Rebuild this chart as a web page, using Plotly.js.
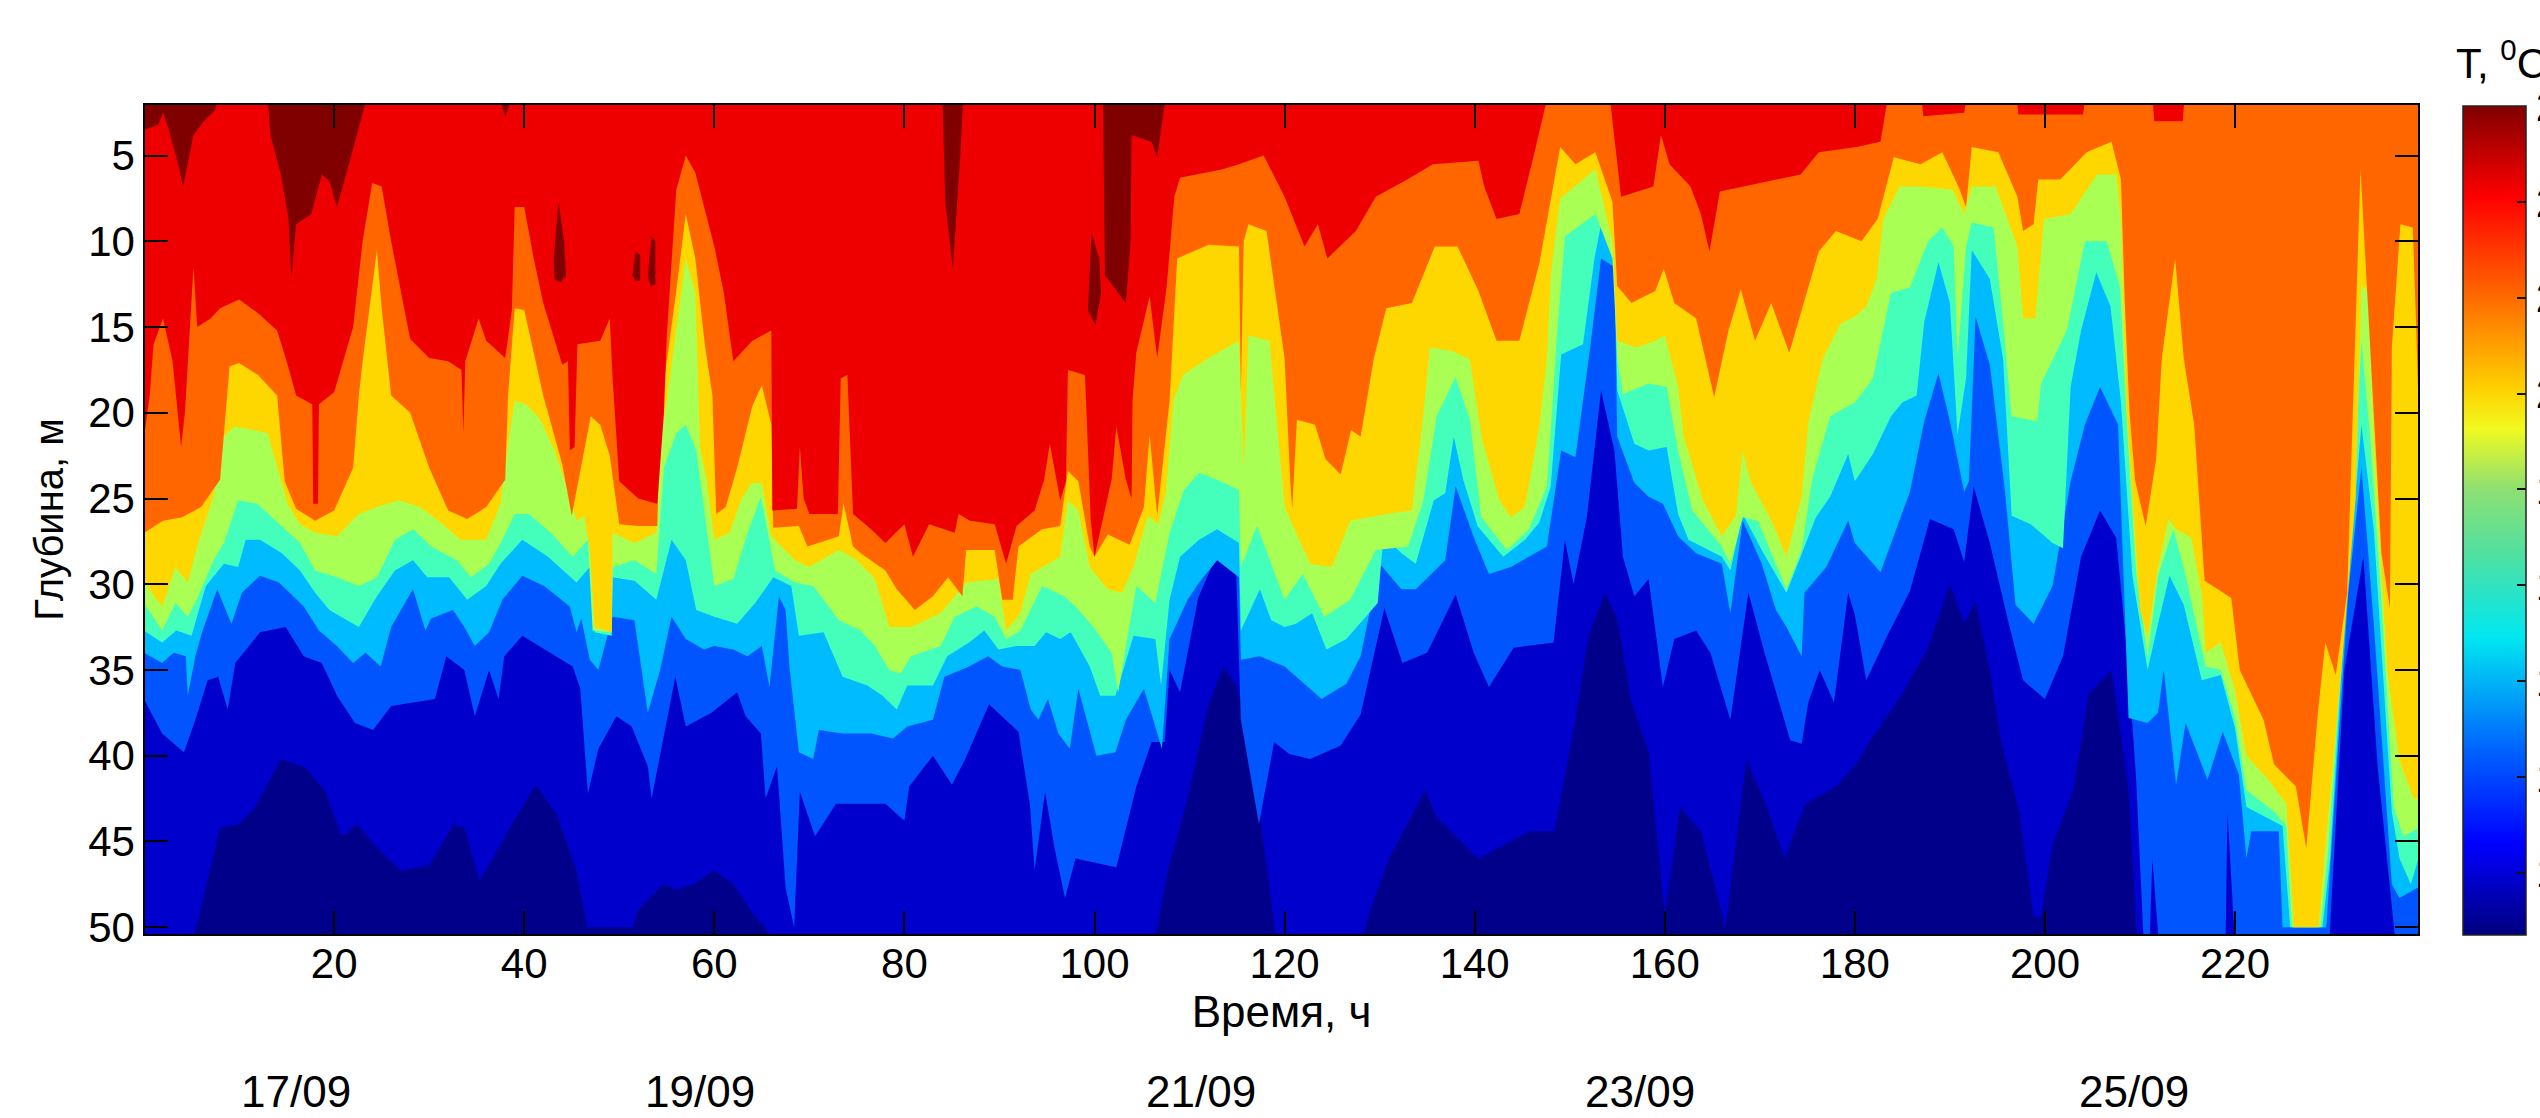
<!DOCTYPE html>
<html><head><meta charset="utf-8">
<script src="https://cdn.plot.ly/plotly-3.0.1.min.js"></script>
<style>html,body{margin:0;padding:0;background:#fff;overflow:hidden}</style>
</head><body><div id="chart" style="width:2540px;height:1118px"></div>
<script>
// Isotherm depth (m) against time (h): [hour, depth]
const T25=[[0,3.5],[1.5,3.2],[2,2.5],[2.6,3.5],[3.6,5.5],[4.1,6.8],[5.2,3.8],[6.3,3],[7.4,2.4],[8,1.5],[13,1.5],[13.3,3.8],[14.4,6.1],[15.2,8.7],[15.5,12.1],[16,9],[17.6,8.4],[18.7,6.1],[19.5,6.5],[20.3,8],[21.9,4.8],[23.2,2.2],[23.5,1.5],[37.3,1.5],[38,2.7],[38.8,1.5],[84,1.5],[84.3,7.7],[85.1,11.6],[85.9,4.8],[86.2,1.5],[100.9,1.5],[101.1,12],[103.3,13.6],[103.8,10],[103.9,3.8],[106,4.2],[106.6,5.1],[107.3,2.2],[107.5,1.5],[240,1.5]];
const T23=[[0,21.4],[0.6,19],[1,16],[2,14.5],[3,17],[3.9,22],[4.3,20],[5.2,11.5],[5.6,15],[7,14.5],[8,13.9],[10,13.4],[12,14.2],[14,15.2],[15,17],[16,19],[17.7,19.5],[17.8,25.3],[18.3,25.3],[18.4,19.5],[20,18.8],[22,15],[23,10],[24,6.6],[25,6.8],[26,10],[28,15.7],[30,16.8],[32,17],[33.4,17.5],[33.6,21.2],[33.8,17],[35.2,14.5],[36,15.8],[38,16.8],[38.7,14],[39,8],[40,8],[41,11],[42,13.6],[44,17.2],[44.6,17],[44.8,22.2],[45.3,22],[45.6,16],[48,15.8],[49,14.5],[49.3,18],[50,24],[52,25],[54,25.3],[54.7,20],[55,15.5],[56,7],[57,5],[58,6],[60,10.3],[61,13],[62,17],[64,15.8],[66,15.2],[66.1,25.7],[68.7,25.6],[69,22],[69.4,25],[70,25.9],[73,25.9],[73.3,18],[74,17.8],[74.6,25.9],[76.5,26.8],[78,27.6],[80,26.5],[80.9,28.4],[82.6,26.5],[85.3,27],[85.7,25.9],[86.9,26.3],[89.5,26.5],[90.7,28.8],[91.8,26.6],[93.7,25.7],[94.7,23.9],[95.3,21.8],[96.4,25.1],[97,24],[97.2,17.5],[99,17.8],[99.6,26.2],[100,28.4],[101.8,23.9],[102.3,20.8],[103.3,23.9],[103.9,25],[104,19.3],[104.4,16.5],[105.8,13.2],[106.6,16.8],[107.6,12.6],[108.4,7.4],[109,6.3],[113.5,5.8],[115.2,5.5],[117.8,5],[120,7.4],[122.1,10.3],[123.5,9],[124.5,11],[127.5,9.4],[129.6,7.4],[132.9,6.4],[135.6,5.5],[140.4,5.3],[141,6.8],[142.3,8.7],[144.7,8.4],[146.3,4.8],[147.4,2.2],[147.8,1.5],[154,1.5],[154.3,2],[155.4,7.4],[158.8,6.8],[159.6,3.8],[160.5,5.5],[162.7,6.8],[163.8,8.4],[164.7,10.6],[165.8,7.1],[168.3,6.8],[171.7,6.4],[174.3,6.1],[176.2,4.8],[180.2,4.5],[182.7,4.2],[183.3,2.2],[183.6,1.5],[187,1.5],[187.2,2.7],[191.5,2.5],[191.8,1.5],[197,1.5],[197.2,2.6],[204,2.6],[204.3,1.5],[211.3,1.5],[211.5,3],[214.5,3],[214.7,1.5],[240,1.5]];
const T21=[[0,27],[2,26.3],[4,26.1],[6,25.5],[8,23.9],[8.7,19],[9,17.3],[10,17.1],[12,17.8],[14,19],[14.4,21.6],[14.8,24],[16,25.6],[18,26.3],[20,25.7],[22,23.2],[22.6,19],[23,17],[24.5,10.5],[25,13.9],[26,19],[28,20],[30,23.2],[32,25.7],[34,26.2],[36,25.5],[38,23.9],[38.3,19],[39,13.9],[40,14],[42,19],[44,23],[45,26],[47,20.2],[48,20.7],[49,22.5],[50,26.5],[52,26.6],[54,26.6],[54.3,20],[55,17],[56,12.9],[57,8.4],[58,11],[59,16],[59.8,19],[60.2,25.9],[61.2,25.5],[62.4,23.2],[64,19.6],[65,18.4],[66,20.7],[66.2,26.7],[68.9,26.6],[69.8,27.8],[73.1,27.2],[73.6,25.3],[74.6,27.8],[75.4,28.2],[78,29.2],[79.2,30.3],[81.1,31.5],[83,30.7],[84.6,29.6],[86.1,30.7],[86.5,28],[89.5,28],[90.3,30.9],[91.4,30.9],[92,27.8],[94.5,26.8],[96.4,26.6],[97.2,23.4],[98.3,24],[99.5,27.8],[100,28.4],[101.4,27.1],[103.7,27.7],[105.2,25.5],[105.8,21.3],[106.6,26],[107.5,21.3],[107.9,19.3],[108.7,11],[112,10.2],[115.2,10.3],[115.4,18.8],[115.7,10],[116.2,9],[118.1,9.4],[120,16.8],[120.6,24],[120.8,25.6],[121.3,20.4],[123.2,20.7],[124.3,22.7],[125.9,23.6],[127,21],[128,21.4],[129.4,16.8],[130.7,13.9],[133.4,13.6],[135.8,10.3],[138.2,10.3],[140.4,12.9],[142.3,15.8],[144.7,15.8],[146.8,11.3],[149,4.5],[150.6,5.5],[152.7,4.8],[154.5,7.7],[155,12.6],[156.5,13.6],[159,12.9],[159.9,11.6],[161,13.6],[163.3,14.5],[165.2,19.1],[166.7,15.2],[168,12.8],[169.5,15.8],[171.2,13.6],[173.1,16.5],[174.3,14.2],[176.2,10.6],[178,9.4],[180.7,10],[182.4,8.7],[184.1,5.1],[186.9,5.5],[189.2,4.8],[190.9,6.8],[191.7,8],[192.3,4.5],[195.1,4.8],[197.1,7.4],[197.7,9.4],[198.8,9],[199.3,6.4],[201.6,6.4],[204.4,4.8],[207,4.2],[208,6.4],[208.4,13.6],[208.9,20],[209.5,24],[210.6,26.6],[211.7,22.7],[212.3,16.8],[213.7,11],[214.6,16.8],[215.7,20.7],[216.8,29.8],[219.6,30.8],[220.5,35],[223,37.9],[224.1,40.5],[226.4,41.8],[227.5,45.4],[228.7,37.6],[229.5,33.4],[230.6,35.3],[231.8,30.5],[233.2,5.8],[234.6,20],[235.4,28.2],[236.3,31.4],[236.5,16.2],[237.4,9],[238.7,9.2],[239,14],[239.4,21.3],[240,21.3]];
const T19=[[0,29.9],[1.9,31.3],[3.3,29],[4.6,29.9],[5.7,27.6],[7.3,24.9],[8.4,21.4],[9.5,20.8],[11.5,21],[13,21.2],[14.5,24.1],[15.1,25.3],[16.4,26.5],[18,27],[20.3,27.2],[22.6,25.9],[24.5,25.5],[26.8,25.1],[29,25.5],[31,26.3],[33.3,27.4],[36,27.4],[37.5,25.3],[38.3,21.8],[39,19.3],[40.2,19.5],[41.7,20.4],[43.2,22.2],[44.8,24.9],[45.5,26.3],[46.3,26],[46.9,28],[47.4,32.5],[49.2,32.8],[49.3,27],[51.6,27.6],[53.9,27],[54.5,21.2],[55,19.3],[56,15],[57,11],[58,13],[58.5,22],[59.2,24],[60,27.4],[61.6,27],[62.8,25.1],[63.9,24.1],[65,24.1],[66,27.2],[68.5,28.6],[70,29],[73.1,28],[75,28.6],[76.9,29.7],[78.4,32.5],[80.7,32.5],[83.8,31.7],[86.5,29.9],[89.9,29.7],[90.7,32.7],[92.2,31.7],[93.3,29.4],[96.4,28.4],[97.2,25.1],[98.3,25.7],[99.5,29],[101.4,30.3],[102.9,30.5],[104.1,29],[105.6,26],[106.7,26.5],[107.5,24.7],[108.3,19.3],[109.3,17.8],[112,16.8],[115.2,15.8],[115.7,23.3],[116.2,15.5],[118.4,15.8],[120,25.5],[121.2,27],[122.7,28.8],[125,29],[126.9,26.3],[130.7,25.9],[133.4,25.7],[134.5,20.6],[135.3,16.2],[137.6,16.4],[139.5,16.9],[140.7,21.4],[142.6,25.1],[143.8,26.1],[145.3,25.5],[146.8,20.8],[147.6,16.9],[148,12],[149,7.5],[152.7,5.8],[154.5,10],[155,15.8],[157,16.2],[159,15.8],[160,15.5],[161.4,18.5],[162,21.4],[164,25.1],[166,27.2],[167.5,26],[168.2,22.2],[169,24],[171.3,26.4],[172.8,28.4],[174.4,24.9],[175.1,20.6],[176.6,16.9],[178.5,14.8],[180,14.4],[181.2,13.8],[182.3,12.2],[183,8.7],[184.7,6.8],[186.9,6.8],[190.3,7],[191.5,8.4],[192.3,6.8],[194.8,6.8],[197.1,10.3],[197.7,14.5],[199,14.5],[199.9,8.7],[202.7,8.4],[205.5,6.1],[207.5,6.1],[208,8.7],[208.6,20],[210,31.5],[210.8,33.1],[211.9,29],[213,26.2],[213.8,26.8],[215.4,27.3],[216.5,30.6],[216.9,34],[218.5,33.4],[220,36.2],[221.2,40],[223.5,41.4],[225.4,42.8],[226.2,50],[228.8,50],[229.6,44.7],[231.2,35],[232.7,24.9],[233.3,12.5],[234,13],[234.6,21.3],[236,35],[237.3,40.3],[238.8,42.5],[240,42.5]];
const T17=[[0,31.1],[1.9,32.7],[3.3,31.1],[4.6,31.9],[5.7,30.7],[7.3,28.6],[8.4,27.6],[9.9,25.1],[11.9,25.3],[14.2,26.5],[16.4,27.6],[18,29.2],[20.3,29.6],[22.6,30.1],[24.5,29.6],[26.4,27.4],[28.3,26.8],[30.2,27.8],[32.9,28.6],[34.4,29.6],[36.3,28.8],[37.7,27.4],[39,25.9],[40.5,25.9],[42.8,27],[45.1,28.4],[46.7,27.4],[47.2,32.7],[49.2,32.8],[49.3,29],[51.6,28.6],[53.9,29.4],[54.7,23.2],[56,21.2],[57,20.7],[58.1,22.2],[59,26],[60,30.1],[62,29.7],[63.5,27],[64.9,24.9],[65.8,27.4],[66.4,29.2],[68.5,29.9],[70.4,30.1],[73.1,32.1],[75.4,32.7],[76.9,33.6],[78.4,35],[79.6,35.2],[80.7,34.2],[83.8,33.6],[85.3,31.9],[87.6,31.3],[89.5,31.9],[90.7,33.2],[92.2,32.7],[94.5,30.1],[96.8,30.7],[98,31.3],[99.9,32.5],[101.8,34],[102.5,36.3],[103.3,33.6],[104.4,30.1],[106.4,31.1],[107.9,27],[109.4,24.5],[111,23.5],[112.9,23.9],[115.2,24.5],[115.4,29],[117.1,26.6],[118.6,28.8],[120,30.9],[121.9,29.4],[124.2,31.9],[126.9,30.9],[129.6,28],[133,27.8],[134.6,25.1],[136,20.2],[138,17.9],[139.5,20.4],[140.7,26.1],[143.4,28],[145.7,26.8],[147.6,24.3],[148.7,15.2],[149.5,9.7],[152.7,8.4],[154.5,11],[155,16.8],[155.6,18.9],[158.3,18.3],[160.2,18.5],[161.4,22.2],[162.9,25.7],[166,27.8],[166.9,28.8],[168.2,26.1],[169.8,26.3],[172.8,30.3],[174.4,28],[175.5,23.9],[177.4,20.2],[180,19.4],[181.9,18],[183.8,13],[185.8,12.7],[187.7,10],[189.2,9.2],[190.4,10.3],[190.8,16.9],[191.7,10.3],[192.3,8.9],[194.6,9.2],[195.6,14.7],[196.5,20.2],[199.2,20.5],[199.6,18.3],[202.3,15.2],[204.2,10],[206.5,10],[207.9,12.7],[208.7,21.3],[209.6,29.3],[210.8,34.2],[211.9,29.5],[213.5,26.8],[214.6,29],[216.9,34.8],[218.5,35],[220,37.8],[221.2,42],[224.2,43.3],[225.4,44.1],[226,50],[229,50],[229.8,45.5],[231.3,33.7],[232.9,19.9],[233.3,15.8],[234.2,21.3],[235.4,30.9],[236.7,43],[237.7,44.7],[240,44]];
const T15=[[0,32.7],[1.9,33.4],[3.4,32.7],[5,33],[6.5,30.1],[8.4,28.8],[9.9,29],[10.7,27.4],[12.2,27.4],[14.5,28.2],[16.4,29.2],[18,30.5],[19.5,31.5],[22.6,32.5],[24.5,30.7],[26.4,29.2],[28.3,28.6],[29.8,29.6],[32.1,29.6],[34,30.9],[36,30.1],[37.5,28.8],[39.8,27.4],[42.5,28.4],[45.5,29.9],[46.9,29],[47.4,32.8],[49.2,33],[49.3,29.6],[51.6,29.8],[53.9,30.9],[55.5,27.4],[57,28.6],[58.1,31.5],[60,31.9],[62.4,32.3],[64.3,31.1],[66.2,29.6],[68.1,30.1],[68.9,33],[71.5,32.8],[73.5,35.4],[76.1,35.9],[77.7,36.5],[79.2,37.3],[80.3,35.9],[83,35.9],[84.5,34.2],[86.8,33.4],[88.4,32.7],[89.9,33.8],[91.8,33.6],[93.7,33.6],[94.9,32.8],[96.4,33.2],[97.5,32.8],[99.5,34.8],[100.6,36.5],[102.2,36.5],[104.1,33],[106.4,33.2],[107,35.9],[107.9,30.9],[109,28.4],[111,27.4],[112.9,26.8],[115.2,27.6],[115.4,32.7],[117.4,30.3],[118.6,32.1],[120,32.5],[121.2,32.3],[122.9,31.7],[124.4,33.8],[126.5,33.2],[128.5,31.9],[129.8,31.1],[130.4,27.2],[132.3,28.2],[133.8,28.8],[135.7,25.1],[136.9,24.7],[137.8,21.4],[138.8,23.9],[140.3,26.6],[143,28.4],[145.3,27.4],[146.8,26.4],[148,24.3],[149.1,16.6],[151.4,16],[152.6,11],[153.3,9],[154.7,10.4],[155,18.7],[156.8,21.8],[158.3,22.2],[160.2,22],[161.4,25.9],[162.5,27.4],[166,28.4],[166.9,29.2],[168.2,25.9],[170.2,28],[172.8,30.5],[174,28.8],[175.9,26.1],[177.4,24.9],[179.3,22.4],[180,24],[181.9,22.4],[183.8,20.2],[185,19.4],[186.5,19],[187.3,14.7],[188.8,11.2],[190,13.6],[190.8,21.3],[191.7,18],[192.3,10.5],[194.2,12.2],[195.6,16.9],[196.5,26],[198.5,26.5],[200.8,27.6],[201.9,27.9],[202.7,18.5],[203.8,15.2],[205.4,11.8],[206.9,13.8],[208,19.4],[209.2,29.5],[210.8,35],[211.9,32.3],[213.1,29.5],[214.6,31.2],[216.5,35.6],[218.5,35.3],[220,38.4],[221.2,43],[224.2,43.9],[225,44.1],[225.8,50],[229.2,50],[230,46],[231.5,32.3],[233.3,20.7],[234.6,26.8],[236.5,43.3],[237.3,46],[238.5,47.5],[240,44.7]];
const T13=[[0,34],[1.9,34.6],[3.1,34],[4.4,34.2],[4.6,36.5],[5.4,34.2],[6.1,32.8],[7.7,30.3],[9.2,32.3],[10.3,30.5],[12.2,29.5],[14.2,29.9],[15.7,30.7],[16.8,31.3],[18.4,32.7],[20.3,33.6],[22,34.6],[23.3,34],[24.9,34.8],[26,32.5],[28.3,30.3],[29.6,32.7],[30.2,32],[32.5,31.5],[33.7,32.5],[34.8,33.6],[36.3,32.8],[37.7,30.9],[39.8,29.5],[42.1,30.1],[44.8,31.3],[45.5,32.8],[46,32],[46.9,34.4],[47.8,35],[49.3,31.9],[51.6,32.1],[53,37.5],[54.3,35],[55.5,31.9],[57,33.2],[58.9,33.8],[60,33.6],[62,33.8],[63.5,34.2],[65,33.6],[65.8,36],[66.8,30.7],[67.5,31.5],[67.9,34.8],[68.9,39.8],[70.4,40.2],[71,38.5],[73.5,38.7],[76.5,38.7],[78.8,39],[80.3,38.3],[83,37.9],[84.2,35.4],[86.8,34.8],[88.8,34.2],[90.3,34.8],[92.2,35],[93.3,37.3],[94.1,37.9],[95.1,36.7],[96.2,38.7],[97.4,39.6],[98.3,36.1],[100.2,40],[102.2,39.8],[103.3,37.9],[105.2,36.1],[107.1,39.6],[107.9,33.2],[109.8,30.9],[111,29.9],[112.9,28.6],[115.2,29.6],[115.4,34.4],[117.4,34.2],[120,34.8],[123.9,36.7],[126.5,35.8],[128,34.2],[130,28.8],[132.3,30.3],[133.8,30.3],[136.9,28.6],[138,24.3],[140,27.4],[141.5,29.4],[143.8,29],[147.6,27.8],[149.1,22.2],[150.6,22.6],[152.2,16],[153.3,11],[154.7,11.5],[155,21.4],[156.8,24.1],[158.3,24.9],[159.8,25.3],[161.4,27.2],[163.3,28.2],[166,28.8],[166.9,31.7],[168.2,26.3],[170.2,28.8],[171.7,31.5],[172.8,32.5],[174.4,34.2],[174.7,30.5],[177,29],[179.3,26.3],[180,27.6],[182.7,29.3],[185.8,24.6],[187.3,20.5],[188.8,17.7],[190,20.5],[191.5,24.6],[192,24],[192.7,14.4],[194.2,17.2],[195.8,24.6],[196.9,31.2],[198.8,32.3],[200.8,30.1],[202.7,24],[204.2,20.7],[205.8,18.5],[207.7,20.7],[208.8,37.8],[210.8,38.1],[211.9,37.5],[212.5,35],[213.8,41.7],[214.8,38.1],[217.1,41.4],[218.7,38.6],[220.4,41.1],[221.2,46],[221.7,44.4],[224.6,44.4],[225,50],[229.6,50],[230.4,43.3],[231.9,30.6],[233.3,23.2],[234.6,32.3],[236.5,47.5],[237.3,48.3],[239.2,47.7],[240,47.7]];
const T11=[[0,36.7],[1.9,38.7],[4.2,39.8],[5.4,37.9],[6.7,35.6],[7.8,35.4],[8.8,37.3],[9.6,34.6],[12.2,32.8],[14.9,32.5],[16.8,34.2],[18.7,34.6],[20.3,36.5],[22.2,38.1],[24.1,38.5],[26,37.1],[28.3,36.9],[30.6,36.7],[31.8,34.2],[33.7,35],[34.8,37.7],[36.3,35],[37.3,36.7],[37.9,34.2],[39.8,33],[42.1,33.8],[45.1,34.8],[45.9,36.1],[46.7,42.2],[47.8,39.6],[49.7,37.7],[51.3,38.3],[53,40.6],[53.4,42.5],[54.7,38.7],[55.9,35.4],[57,38.3],[59.7,37.5],[62.4,36.3],[63.3,37.7],[64.9,38.7],[65.4,42.5],[66.6,40.6],[67.5,47.7],[68.4,50],[69,42.1],[70.6,44.7],[72.8,42.8],[78,42.8],[80,43.8],[80.5,41.8],[83,40],[85,41.7],[86.4,40.2],[88.9,37],[92,38.6],[93.2,42.8],[93.7,46.7],[94.8,42.1],[95.8,45.4],[96.9,48.3],[98,46],[102.3,46.5],[104.4,41.8],[106,39.2],[107.4,39.2],[107.9,35],[109,36.3],[110.9,30.8],[112.7,28.5],[114.9,29.2],[115.4,37.9],[117.3,44],[118.9,39.2],[120.5,39.9],[122.7,40.2],[125.9,39.4],[128,37.6],[130.5,31.4],[132.4,34.6],[135,34],[138,30.6],[139.9,34],[141.5,36],[144.1,33.7],[148.3,33.4],[149.5,27.4],[150.4,30],[151.8,26.1],[153.3,18.7],[154.7,22.2],[155.6,28.4],[156.8,30.7],[158.3,29.7],[159.8,36],[161,33.2],[163.3,32.7],[164.8,34],[166.9,37.9],[168.8,30.5],[170.5,34],[173.2,39.1],[174.4,39.3],[175.1,36.9],[176.3,35],[177.8,36.9],[179.3,30.5],[180,31.8],[181.2,35.6],[183.5,32.9],[185.8,30.4],[187.9,26.2],[190.4,26.8],[191.5,28.7],[192.5,24.3],[194.2,27.6],[196.2,32.3],[197.7,35.6],[200,36.7],[201.9,34.2],[203.8,28.4],[205.8,25.7],[207.5,27.3],[208.8,35],[209.6,41.4],[210.4,51],[211,51],[211.3,46],[212,51],[219,51],[219.2,43.3],[220,51],[229.9,51],[231.5,35],[233.5,28.4],[235,40.6],[236.9,51],[240,51]];
const T9=[[0,51],[5,51],[5.5,50],[8,44.2],[10,44],[11.7,43],[14.4,40.2],[17,40.7],[19,42],[20.8,44.7],[22.4,44],[24.6,45.4],[27,46.7],[30,46.4],[32.6,44],[33.7,44.2],[35.3,47.3],[37,45.7],[38.5,44.2],[41.2,41.7],[43.4,43.4],[45.5,46.7],[46.6,50],[51.4,50],[52,49],[54.6,47.5],[56,47.8],[57.8,47.5],[60,46.7],[62,47.5],[64.3,49.4],[65.4,50],[66,51],[106,51],[106.6,50],[107.6,47],[109.8,42.5],[112,37],[113.6,34.8],[115,36],[116.8,41],[118.9,50],[119.2,51],[128,51],[129,49],[131,46],[134.8,42],[136,43.6],[140.4,46],[145.8,44.4],[148.4,44.4],[150.6,37.9],[152,33],[153.7,30.5],[155,32],[156.4,36.7],[158.3,39.8],[160,49.3],[161.6,43],[163.8,44.4],[166.4,50],[168.6,40.2],[170.6,42.8],[172.6,46],[174.8,42.8],[178,41.8],[180,40.6],[181.9,38.9],[185,36.4],[187.7,33.7],[190,30],[191.5,32.3],[192.7,31],[194.2,35],[195.4,39.2],[197.3,43.3],[198.8,49.4],[199.6,49.4],[200.8,45.2],[203,42],[204.6,36.4],[207,35],[208.8,42],[209.6,50],[210,51],[240,51]];
// Detached warm pockets below the surface layer: [hour, depth] outlines
const POCKET_A=[[43.1,11],[43.6,7.7],[44.2,10],[44.4,12],[43.8,12.4],[43.2,12.2]];
const POCKET_B=[[51.4,12],[51.7,10.6],[52.2,10.8],[52.2,12.3],[51.7,12.3]];
const POCKET_C=[[53,12],[53.4,9.7],[53.8,10],[53.8,12.5],[53.3,12.6]];
const POCKET_D=[[99.3,14],[99.7,9.5],[100.5,11],[100.7,13],[100.1,14.9]];
const XTICKS=[20,40,60,80,100,120,140,160,180,200,220];
const YTICKS=[5,10,15,20,25,30,35,40,45,50];
const CTICKS=[10,12,14,16,18,20,22,24,26];
const DATES=['17/09','19/09','21/09','23/09','25/09'];
const DATE_HOURS=[16,58.5,111.2,157.4,209.4];

const FONT='"Liberation Sans", Arial, sans-serif';
const BAND_COLORS=['#0000CC','#0055FF','#00BBFF','#44FFBB','#AAFF55','#FFD700','#FF6600','#EE0000','#800000'];
const ISO=[T9,T11,T13,T15,T17,T19,T21,T23,T25];
const traces=ISO.map((c,i)=>({type:'scatter',mode:'lines',x:c.map(p=>p[0]),y:c.map(p=>p[1]),fill:'tozeroy',fillcolor:BAND_COLORS[i],line:{width:0,color:BAND_COLORS[i]},hoverinfo:'skip',showlegend:false}));
[POCKET_A,POCKET_B,POCKET_C,POCKET_D].forEach(c=>traces.push({type:'scatter',mode:'lines',x:c.map(p=>p[0]),y:c.map(p=>p[1]),fill:'toself',fillcolor:'#800000',line:{width:0},hoverinfo:'skip',showlegend:false}));
const CMIN=8.7,CMAX=26;
const JET=[[0,'#00007F'],[0.11,'#0000FF'],[0.22,'#0060FF'],[0.36,'#00E8F0'],[0.46,'#50E0A0'],[0.54,'#90E070'],[0.61,'#F0FA20'],[0.66,'#FFD000'],[0.78,'#FF6000'],[0.89,'#FF0000'],[1,'#800000']];
traces.push({type:'scatter',mode:'markers',x:[-5,-5],y:[-5,-5],hoverinfo:'skip',showlegend:false,
  marker:{size:1,opacity:0,color:[CMIN,CMAX],cmin:CMIN,cmax:CMAX,colorscale:JET,showscale:true,
    colorbar:{x:(2463-145)/2273,xanchor:'left',y:-1/829,yanchor:'bottom',
      lenmode:'pixels',len:829,thicknessmode:'pixels',thickness:63,xpad:0,ypad:0,
      outlinecolor:'#222',outlinewidth:1.5,borderwidth:0,
      tickmode:'array',tickvals:CTICKS,ticktext:CTICKS.map(String),ticks:'inside',ticklen:9,tickwidth:1.5,tickcolor:'#111',
      tickfont:{family:FONT,size:42,color:'#000'}}}});
const barPaperY=v=>(934-(935-829*(v-CMIN)/(CMAX-CMIN)))/829;
const shapes=CTICKS.slice(0,-1).map(v=>({type:'line',xref:'paper',yref:'paper',x0:(2463-145)/2273,x1:(2470-145)/2273,y0:barPaperY(v),y1:barPaperY(v),line:{color:'#111',width:1.5}}));
const annotations=DATES.map((d,i)=>({text:d,xref:'x',yref:'paper',x:DATE_HOURS[i],y:-(1091-934)/829,xanchor:'center',yanchor:'middle',showarrow:false,font:{family:FONT,size:44,color:'#000'}}));
annotations.push({text:'T, <sup>0</sup>C',xref:'paper',yref:'paper',x:(2454-145)/2273,y:(934-60)/829,xanchor:'left',yanchor:'middle',showarrow:false,font:{family:FONT,size:42,color:'#000'}});
const axisCommon={showgrid:false,zeroline:false,showline:true,linecolor:'#000',linewidth:1.5,mirror:'ticks',ticks:'inside',ticklen:23,tickwidth:1.5,tickcolor:'#000',tickfont:{family:FONT,size:42,color:'#000'},layer:'above traces'};
const layout={width:2540,height:1118,paper_bgcolor:'#fff',plot_bgcolor:'#00008B',showlegend:false,
  margin:{l:145,r:122,t:105,b:184,pad:0,autoexpand:false},shapes,annotations,
  xaxis:Object.assign({},axisCommon,{range:[0.1,239.25],tickmode:'array',tickvals:XTICKS,ticktext:XTICKS.map(String),ticklabelstandoff:-8,
    title:{text:'Время, ч',standoff:6,font:{family:FONT,size:44,color:'#000'}}}),
  yaxis:Object.assign({},axisCommon,{range:[50.4,2.05],tickmode:'array',tickvals:YTICKS,ticktext:YTICKS.map(String),
    title:{text:'Глубина, м',standoff:12,font:{family:FONT,size:40,color:'#000'}}})};
Plotly.newPlot('chart',traces,layout,{displayModeBar:false,responsive:false});
</script></body></html>
